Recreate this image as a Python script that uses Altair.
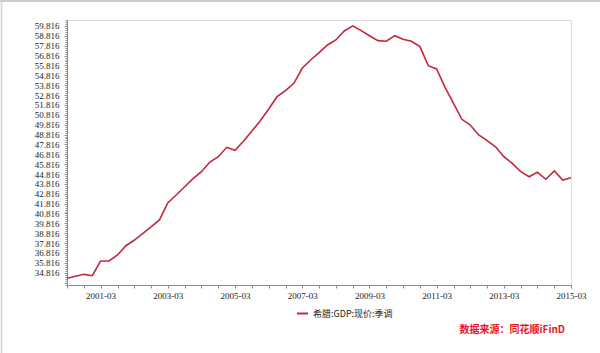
import altair as alt
import pandas as pd

# ---- data ----
start_year, start_month = 2000, 3
values = [
    34.25, 34.45, 34.65, 34.51, 36.00, 36.00, 36.61, 37.55, 38.10, 38.77,
    39.45, 40.16, 41.88, 42.69, 43.53, 44.34, 45.05, 46.03, 46.57, 47.52,
    47.22, 48.13, 49.18, 50.22, 51.37, 52.65, 53.26, 54.01, 55.53, 56.37,
    57.11, 57.89, 58.40, 59.31, 59.82, 59.34, 58.83, 58.33, 58.27, 58.83,
    58.47, 58.27, 57.72, 55.79, 55.46, 53.60, 51.98, 50.36, 49.78, 48.77,
    48.19, 47.58, 46.57, 45.90, 45.05, 44.54, 44.99, 44.28, 45.12, 44.21,
    44.44,
]
series_name = "希腊:GDP:现价:季调"
source_text = "数据来源：同花顺iFinD"

dates = []
for i in range(len(values)):
    m0 = (start_month - 1) + 3 * i
    y = start_year + m0 // 12
    m = m0 % 12 + 1
    dates.append(f"{y}-{m:02d}-01T00:00:00")

df = pd.DataFrame({"date": dates, "value": values, "series": series_name})

# axis tick positions
x_tick_values = []
for k in range(31):
    m0 = 2 + 6 * k
    x_tick_values.append(alt.DateTime(year=2000 + m0 // 12, month=m0 % 12 + 1, date=1))
y_tick_values = [round(33.616 + 0.2 * k, 3) for k in range(135)]

line_color = "#c0283c"
axis_color = "#8c8c8c"
label_font = "Liberation Serif"

x_major_test = "month(datum.value) == 2 && year(datum.value) % 2 == 1"
y_major_test = "abs(datum.value - floor(datum.value) - 0.816) < 0.01"

base = alt.Chart(df)

line = base.mark_line(strokeWidth=1.6, clip=True).encode(
    x=alt.X(
        "date:T",
        scale=alt.Scale(
            domain=[alt.DateTime(year=2000, month=3, date=1),
                    alt.DateTime(year=2015, month=3, date=1)],
            nice=False,
        ),
        axis=alt.Axis(
            title=None,
            values=x_tick_values,
            labelExpr=f"{x_major_test} ? timeFormat(datum.value, '%Y-%m') : ''",
            labelOverlap=False,
            labelFlush=False,
            labelFont=label_font,
            labelFontSize=9,
            labelColor="#222222",
            labelPadding=3,
            tickSize=3,
            tickColor=axis_color,
            domainColor=axis_color,
            grid=False,
        ),
    ),
    y=alt.Y(
        "value:Q",
        scale=alt.Scale(domain=[33.57, 60.42], nice=False, zero=False),
        axis=alt.Axis(
            title=None,
            values=y_tick_values,
            labelExpr=f"({y_major_test}) && datum.value > 34.5 ? format(datum.value, '.3f') : ''",
            labelOverlap=False,
            labelFlush=False,
            labelFont=label_font,
            labelFontSize=9,
            labelColor="#222222",
            labelPadding=5,
            tickSize={"condition": {"test": y_major_test, "value": 3}, "value": 2},
            tickColor=axis_color,
            domainColor=axis_color,
            grid=False,
        ),
    ),
    color=alt.Color(
        "series:N",
        scale=alt.Scale(domain=[series_name], range=[line_color]),
        legend=alt.Legend(
            title=None,
            orient="none",
            legendX=229,
            legendY=287,
            symbolType="stroke",
            symbolSize=121,
            symbolStrokeWidth=2,
            labelFont="Noto Sans CJK SC",
            labelFontSize=9,
            labelColor="#222222",
            labelOffset=4,
        ),
    ),
)

source = alt.Chart(pd.DataFrame({"t": [source_text]})).mark_text(
    align="right", baseline="middle", font="Noto Sans CJK SC",
    fontSize=10, fontWeight="bold", color="#e8141c",
).encode(x=alt.value(498), y=alt.value(310), text="t:N")

frame_top = alt.Chart(pd.DataFrame({"a": [0]})).mark_rule(
    color="#c8cccc", strokeWidth=2
).encode(x=alt.value(-67), x2=alt.value(533), y=alt.value(-19))
frame_left = alt.Chart(pd.DataFrame({"a": [0]})).mark_rule(
    color="#d0d4d4", strokeWidth=1.5
).encode(x=alt.value(-65.5), y=alt.value(-20), y2=alt.value(333))

chart = alt.layer(line, source, frame_top, frame_left).properties(
    width=504,
    height=265,
    autosize="none",
    padding={"left": 67, "top": 20, "right": 29, "bottom": 68},
).configure_view(stroke=None).configure(background="white")

chart.save("out.html", embed_options={"renderer": "svg", "actions": False})
